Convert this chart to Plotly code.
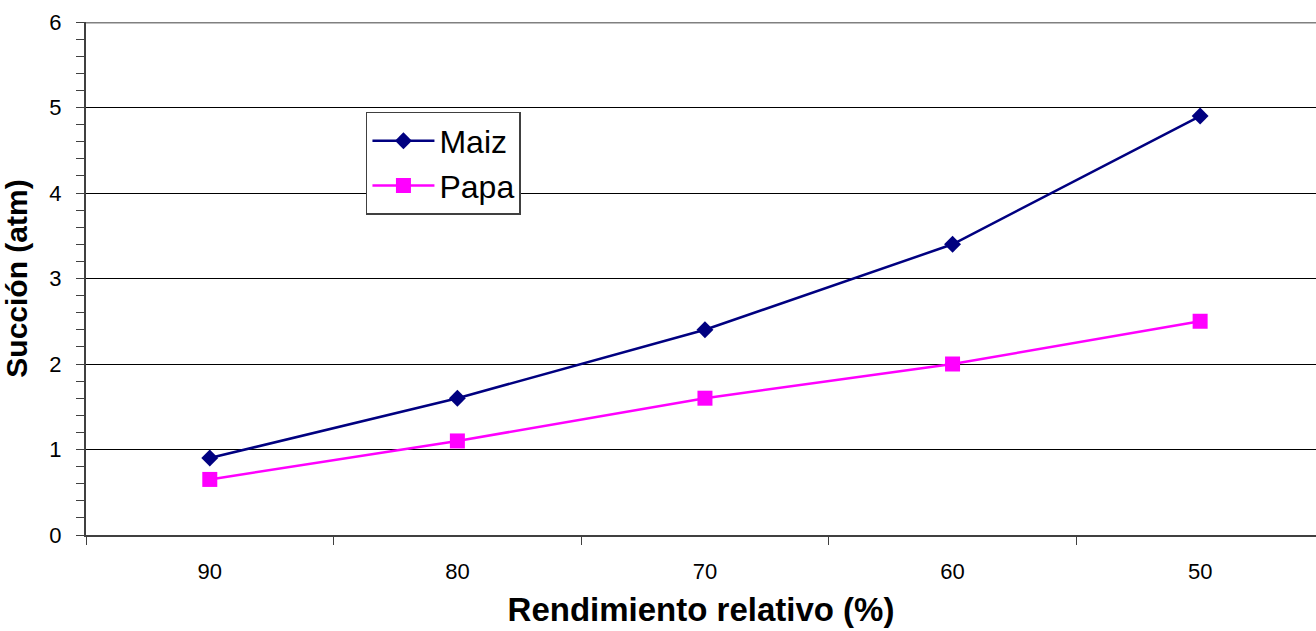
import plotly.graph_objects as go

# Relative yield categories (%) and soil suction (atm) for each crop
rendimiento = ["90", "80", "70", "60", "50"]
maiz = [0.9, 1.6, 2.4, 3.4, 4.9]
papa = [0.65, 1.1, 1.6, 2.0, 2.5]

pos = list(range(len(rendimiento)))

fig = go.Figure()
fig.add_trace(go.Scatter(
    x=pos, y=maiz, name="Maiz", mode="lines+markers",
    line=dict(color="#000080", width=2.5),
    marker=dict(symbol="diamond", size=13, color="#000080"),
))
fig.add_trace(go.Scatter(
    x=pos, y=papa, name="Papa", mode="lines+markers",
    line=dict(color="#FF00FF", width=2.5),
    marker=dict(symbol="square", size=15, color="#FF00FF"),
))

# grey frame line across the top of the plotting area
fig.add_shape(type="line", xref="paper", yref="y", x0=0, x1=1, y0=6, y1=6,
              line=dict(color="#808080", width=3), layer="below")

fig.update_layout(
    width=1316, height=631,
    margin=dict(l=86, r=0, t=22, b=96),
    paper_bgcolor="white", plot_bgcolor="white",
    font=dict(family="Liberation Sans, Arial, sans-serif", color="black"),
    showlegend=True,
    legend=dict(
        x=0.2276, y=0.8246, xanchor="left", yanchor="top",
        bgcolor="white", bordercolor="#404040", borderwidth=1.5,
        font=dict(size=32, color="black"),
        itemwidth=62,
    ),
    xaxis=dict(
        range=[-0.5, 4.468],
        tickmode="array", tickvals=pos, ticktext=rendimiento,
        ticks="outside", ticklen=0,
        tickfont=dict(size=22),
        ticklabelstandoff=16,
        minor=dict(ticks="outside", ticklen=8, tickcolor="#404040",
                   tick0=0.5, dtick=1, showgrid=False),
        showline=True, linecolor="#404040", linewidth=2,
        showgrid=False, zeroline=False,
        title=dict(text="<b>Rendimiento relativo (%)</b>",
                   font=dict(size=33), standoff=14),
    ),
    yaxis=dict(
        range=[0, 6], dtick=1, tick0=0,
        ticks="outside", ticklen=8, tickcolor="#404040",
        tickfont=dict(size=22),
        ticklabelstandoff=10,
        minor=dict(ticks="outside", ticklen=8, tickcolor="#404040",
                   dtick=0.2, showgrid=False),
        showline=True, linecolor="#404040", linewidth=2,
        showgrid=True, gridcolor="black", gridwidth=1,
        zeroline=False,
        title=dict(text="<b>Succión (atm)</b>",
                   font=dict(size=30), standoff=13),
    ),
)

fig.write_html("out.html")
